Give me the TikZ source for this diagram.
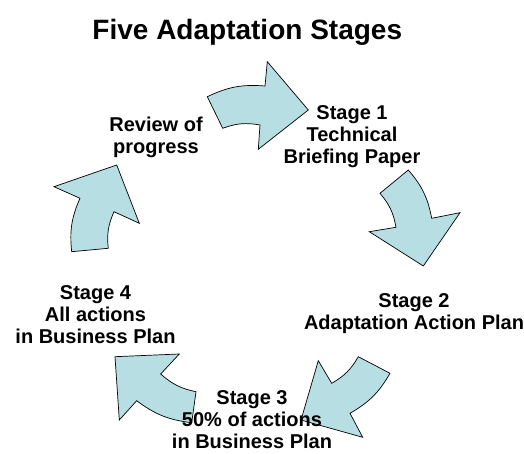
\documentclass[tikz,border=0pt]{standalone}
\usepackage{fontspec}
\setmainfont{Liberation Sans}
\begin{document}
\begin{tikzpicture}[x=1pt,y=1pt,
  cyclearrow/.style={draw=black, line width=0.7pt, fill=arrowfill, line join=miter},
  stagelabel/.style={align=center, inner sep=0pt, anchor=base,
    font=\fontsize{20}{22}\selectfont\bfseries}]
\definecolor{arrowfill}{RGB}{183,222,226}
\useasboundingbox (0,0) rectangle (524,454);
% arrow 1 (top)
\draw[cyclearrow] (207.3,357.3) to[bend left=15] (265,368) -- (267.3,392.3) -- (308.3,344)
  -- (258.3,304.7) -- (260,329) to[bend right=15] (222.7,325.7) -- cycle;
% arrow 2 (right)
\draw[cyclearrow] (380,260.7) -- (408.3,284) to[bend left=15] (431.7,235.7) -- (460,241.3)
  -- (423.3,188) -- (369.3,222.3) -- (396,226.7) to[bend right=15] cycle;
% arrow 3 (bottom right)
\draw[cyclearrow] (358.3,97.3) -- (390,80.7) to[bend left=15] (350,40.7) -- (362.7,16.7)
  -- (301,34) -- (318.3,93.3) -- (331.7,70.7) to[bend right=15] cycle;
% arrow 4 (bottom left)
\draw[cyclearrow] (196,62.3) -- (191.7,31.3) to[bend left=15] (136.7,53.3) -- (119.3,34)
  -- (115,97.3) -- (179.3,100) -- (160.7,80) to[bend right=15] cycle;
% arrow 5 (left)
\draw[cyclearrow] (71.7,202.3) -- (108.3,205.7) to[bend left=15] (114,242.3) -- (139.3,230.7)
  -- (116.7,289) -- (54,267.3) -- (80,255.7) to[bend right=15] cycle;
% texts
\node[anchor=base, inner sep=0pt, font=\fontsize{28}{30}\selectfont\bfseries] (title) at (247.3,414.7) {Five Adaptation Stages};
\node[stagelabel] (review) at (156,300.3) {Review of\\progress};
\node[stagelabel] (s1) at (352,290) {Stage 1\\Technical\\Briefing Paper};
\node[stagelabel] (s2) at (414,124) {Stage 2\\Adaptation Action Plan};
\node[stagelabel] (s3) at (252,5.7) {Stage 3\\50\% of actions\\in Business Plan};
\node[stagelabel] (s4) at (95.5,110.7) {Stage 4\\All actions\\in Business Plan};
\end{tikzpicture}
\end{document}
